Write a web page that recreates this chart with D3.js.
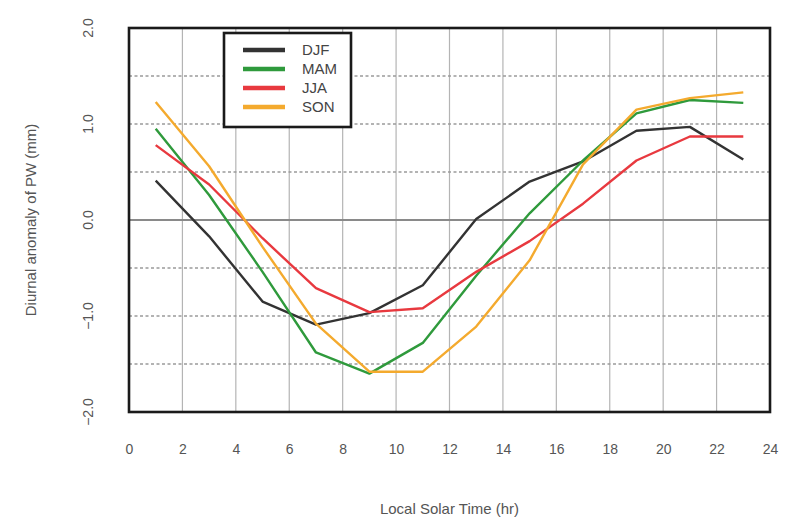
<!DOCTYPE html>
<html>
<head>
<meta charset="utf-8">
<script src="https://cdn.jsdelivr.net/npm/d3@7/dist/d3.min.js"></script>
<style>
  html, body { margin: 0; padding: 0; background: #fff; }
  svg { display: block; font-family: "Liberation Sans", Arial, sans-serif; }
</style>
</head>
<body>
<svg id="chart" width="787" height="523"></svg>
<script>
// Local solar time (hours) of each seasonal mean
const hours = [1, 3, 5, 7, 9, 11, 13, 15, 17, 19, 21, 23];

// Diurnal anomaly of precipitable water (mm) per season
const djf = [0.41, -0.17, -0.85, -1.09, -0.97, -0.68, 0.01, 0.40, 0.61, 0.93, 0.97, 0.63];
const mam = [0.95, 0.26, -0.54, -1.38, -1.60, -1.28, -0.58, 0.07, 0.62, 1.11, 1.25, 1.22];
const jja = [0.78, 0.37, -0.19, -0.71, -0.96, -0.92, -0.54, -0.22, 0.17, 0.62, 0.87, 0.87];
const son = [1.23, 0.56, -0.28, -1.08, -1.58, -1.58, -1.11, -0.42, 0.58, 1.15, 1.27, 1.33];

const seasonNames = ["DJF", "MAM", "JJA", "SON"];
const seasonColors = ["#333333", "#2f9a3c", "#e8393f", "#f4aa2e"];
const seasonValues = [djf, mam, jja, son];

const xTicks = [0, 2, 4, 6, 8, 10, 12, 14, 16, 18, 20, 22, 24];
const yTicks = [-2.0, -1.0, 0.0, 1.0, 2.0];
const yGrid = [-1.5, -1.0, -0.5, 0.5, 1.0, 1.5];

const margin = { left: 129, right: 17, top: 28, bottom: 111 };
const W = 787, H = 523;

const svg = d3.select("#chart");

const x = d3.scaleLinear().domain([0, 24]).range([margin.left, W - margin.right]);
const y = d3.scaleLinear().domain([-2, 2]).range([H - margin.bottom, margin.top]);

// vertical grid
svg.append("g")
  .selectAll("line")
  .data(xTicks.slice(1, -1))
  .join("line")
  .attr("x1", d => x(d)).attr("x2", d => x(d))
  .attr("y1", y(2)).attr("y2", y(-2))
  .attr("stroke", "#b4b4b4").attr("stroke-width", 1.2);

// horizontal dashed grid
svg.append("g")
  .selectAll("line")
  .data(yGrid)
  .join("line")
  .attr("x1", x(0)).attr("x2", x(24))
  .attr("y1", d => y(d)).attr("y2", d => y(d))
  .attr("stroke", "#9a9a9a").attr("stroke-width", 1.3)
  .attr("stroke-dasharray", "3,2.5");

// zero line
svg.append("line")
  .attr("x1", x(0)).attr("x2", x(24))
  .attr("y1", y(0)).attr("y2", y(0))
  .attr("stroke", "#8a8a8a").attr("stroke-width", 2.2);

// season curves
const line = d3.line().x((d, i) => x(hours[i])).y(d => y(d));
svg.append("g")
  .selectAll("path")
  .data(seasonValues)
  .join("path")
  .attr("d", d => line(d))
  .attr("fill", "none")
  .attr("stroke", (d, i) => seasonColors[i])
  .attr("stroke-width", 2.4)
  .attr("stroke-linejoin", "round");

// frame
svg.append("rect")
  .attr("x", x(0)).attr("y", y(2))
  .attr("width", x(24) - x(0)).attr("height", y(-2) - y(2))
  .attr("fill", "none").attr("stroke", "#1a1a1a").attr("stroke-width", 2.6);

// x axis labels
const xAxis = d3.axisBottom(x).tickValues(xTicks).tickSize(0).tickPadding(0).tickFormat(d3.format("d"));
const gx = svg.append("g").attr("transform", `translate(0, ${y(-2) + 32})`).call(xAxis);
gx.select(".domain").remove();
gx.selectAll("text").attr("font-size", 14).attr("fill", "#555").attr("font-family", "Liberation Sans, Arial, sans-serif");

// y axis labels (rotated)
svg.append("g")
  .selectAll("text")
  .data(yTicks)
  .join("text")
  .attr("transform", d => `translate(88, ${y(d)}) rotate(-90)`)
  .attr("text-anchor", "middle")
  .attr("dy", "0.35em")
  .attr("font-size", 14)
  .attr("fill", "#555")
  .text(d => d3.format(".1f")(d).replace("-", "\u2212"));

// axis titles
svg.append("text")
  .attr("x", (x(0) + x(24)) / 2).attr("y", 509)
  .attr("text-anchor", "middle").attr("dy", "0.35em")
  .attr("font-size", 15).attr("fill", "#555")
  .text("Local Solar Time (hr)");

svg.append("text")
  .attr("transform", `translate(31, ${y(0)}) rotate(-90)`)
  .attr("text-anchor", "middle").attr("dy", "0.35em")
  .attr("font-size", 15).attr("fill", "#555")
  .text("Diurnal anomaly of PW (mm)");

// legend
const legend = svg.append("g");
legend.append("rect")
  .attr("x", 224).attr("y", 33).attr("width", 127).attr("height", 94)
  .attr("fill", "#fff").attr("stroke", "#1a1a1a").attr("stroke-width", 2.6);
const items = legend.selectAll("g.item")
  .data(seasonNames)
  .join("g")
  .attr("class", "item")
  .attr("transform", (d, i) => `translate(0, ${50 + i * 19})`);
items.append("line")
  .attr("x1", 243).attr("x2", 285)
  .attr("stroke", (d, i) => seasonColors[i])
  .attr("stroke-width", 4.5);
items.append("text")
  .attr("x", 302).attr("dy", "0.35em")
  .attr("font-size", 15).attr("fill", "#444")
  .text(d => d);
</script>
</body>
</html>
